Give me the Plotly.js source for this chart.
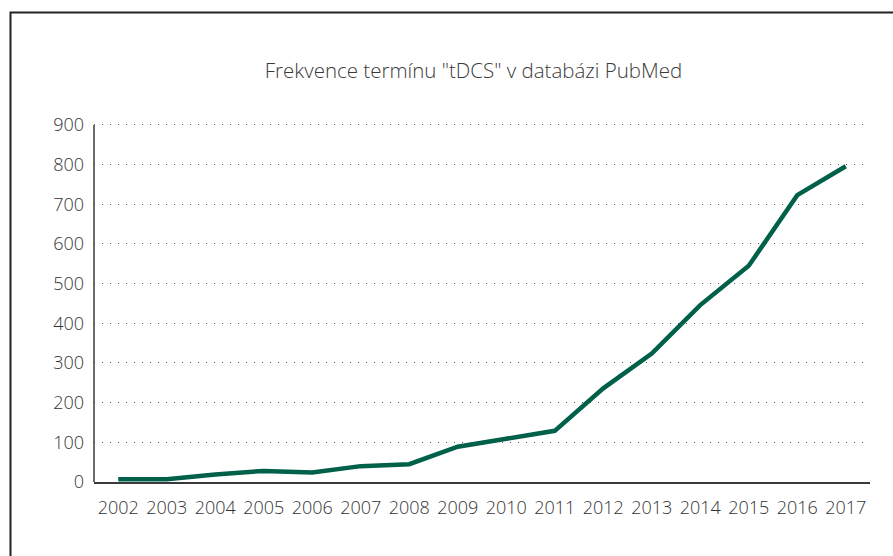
<!DOCTYPE html>
<html>
<head>
<meta charset="utf-8">
<script src="https://cdn.plot.ly/plotly-3.0.1.min.js"></script>
<style>html,body{margin:0;padding:0;background:#fff;}#chart{width:893px;height:556px;}</style>
</head>
<body>
<div id="chart"></div>
<script>
const years = ['2002','2003','2004','2005','2006','2007','2008','2009','2010','2011','2012','2013','2014','2015','2016','2017'];
const counts = [7, 7, 19, 28, 24, 40, 45, 89, 109, 129, 236, 324, 446, 545, 723, 796];
const yTicks = [0,100,200,300,400,500,600,700,800,900];
const chartTitle = 'Frekvence termínu "tDCS" v databázi PubMed';

const L = 94, R = 23, T = 121, B = 74;
const W = 893, H = 556;
const pw = W - L - R, ph = H - T - B;
const yMax = 910;

const trace = {
  x: years, y: counts, type: 'scatter', mode: 'lines',
  line: {color: '#00604a', width: 4.5},
  hoverinfo: 'skip'
};

const FONT = '"Open Sans", "Noto Sans", sans-serif';

const layout = {
  width: W, height: H,
  margin: {l: L, r: R, t: T, b: B},
  paper_bgcolor: '#fff', plot_bgcolor: '#fff',
  showlegend: false,
  font: {family: FONT, color: '#333', size: 18, weight: 300},
  title: {
    text: chartTitle,
    font: {family: FONT, size: 20.5, color: '#3a3a3a', weight: 300},
    x: 473.5 / W, xanchor: 'center', xref: 'container',
    y: 1 - 71 / H, yanchor: 'middle', yref: 'container'
  },
  xaxis: {
    type: 'category', range: [-0.5, 15.5],
    showline: true, linecolor: '#3a3a3a', linewidth: 1.5,
    showgrid: false, ticks: '', zeroline: false, ticklabelstandoff: 9,
    tickfont: {family: FONT, size: 18, color: '#333', weight: 300}
  },
  yaxis: {
    range: [0, yMax], tickvals: yTicks, ticktext: yTicks.map(String),
    showline: false,
    showgrid: true, gridcolor: '#555', gridwidth: 1, griddash: '1px,7px',
    zeroline: false, ticks: '', ticklabelstandoff: 9,
    tickfont: {family: FONT, size: 18, color: '#333', weight: 300}
  },
  shapes: [{
    type: 'rect', xref: 'paper', yref: 'paper',
    x0: (10.5 - L) / pw, x1: 2,
    y0: -1, y1: 1 + (T - 12.5) / ph,
    line: {color: '#222', width: 2}, fillcolor: 'rgba(0,0,0,0)', layer: 'below'
  }, {
    type: 'line', xref: 'paper', yref: 'y',
    x0: 0, x1: 0, y0: 0, y1: yTicks[yTicks.length - 1],
    line: {color: '#3a3a3a', width: 1.5}, layer: 'above'
  }]
};

Plotly.newPlot('chart', [trace], layout, {displayModeBar: false, staticPlot: true});
</script>
</body>
</html>
